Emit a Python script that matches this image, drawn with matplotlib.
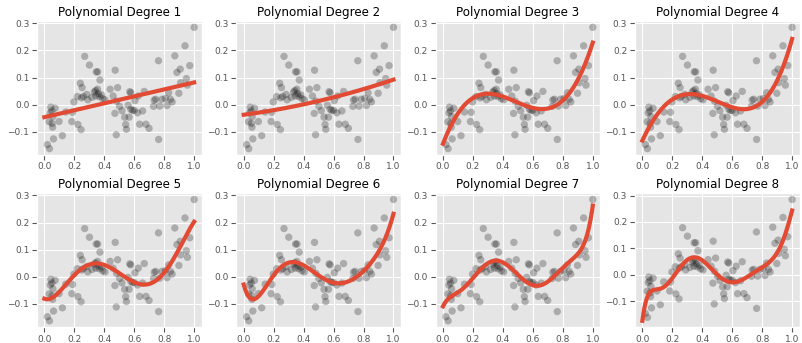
# polynomial fits of increasing degree on the same noisy points

import numpy as np
import matplotlib
matplotlib.use("Agg")
import matplotlib.pyplot as plt

plt.style.use("ggplot")

# points
x_vals = [0.020, 0.034, 0.043, 0.072, 0.039, 0.050, 0.057, 0.032, 0.052, 0.055,
          0.061, 0.098, 0.120, 0.143, 0.183, 0.188, 0.197, 0.220, 0.224, 0.245,
          0.240, 0.252, 0.248, 0.269, 0.283, 0.290, 0.301, 0.333, 0.342, 0.346,
          0.356, 0.371, 0.355, 0.344, 0.367, 0.382, 0.389, 0.405, 0.360, 0.439,
          0.473, 0.489, 0.480, 0.471, 0.459, 0.482, 0.502, 0.518, 0.536, 0.543,
          0.548, 0.566, 0.570, 0.577, 0.559, 0.577, 0.588, 0.600, 0.622, 0.627,
          0.636, 0.656, 0.667, 0.678, 0.699, 0.729, 0.733, 0.744, 0.762, 0.763,
          0.770, 0.785, 0.808, 0.819, 0.830, 0.842, 0.853, 0.871, 0.885, 0.898,
          0.907, 0.910, 0.939, 0.948, 0.955, 0.971, 1.000, 0.260, 0.318, 0.605]
y_vals = [-0.147, -0.162, -0.009, -0.013, -0.030, -0.023, -0.044, -0.063, -0.069, -0.083,
          -0.126, -0.062, -0.114, -0.027, -0.062, -0.028, 0.010, 0.030, -0.073, -0.092,
          0.079, 0.063, 0.025, 0.178, 0.038, 0.018, 0.146, 0.047, 0.052, 0.121,
          0.121, 0.091, 0.057, 0.032, 0.030, 0.036, 0.022, 0.018, 0.041, 0.057,
          0.127, 0.063, -0.111, -0.032, 0.032, 0.013, -0.006, -0.022, -0.046, -0.073,
          -0.091, -0.046, 0.048, 0.044, -0.002, -0.017, -0.021, -0.021, -0.030, 0.032,
          -0.072, -0.023, 0.049, -0.072, -0.087, -0.006, 0.017, 0.020, 0.162, -0.128,
          -0.005, 0.020, 0.023, -0.003, 0.044, 0.020, 0.010, 0.180, 0.119, 0.042,
          0.131, 0.081, 0.217, 0.096, 0.072, 0.144, 0.285, 0.030, 0.027, 0.015]

degrees = [1, 2, 3, 4, 5, 6, 7, 8]

x = np.array(x_vals)
y = np.array(y_vals)
x_line = np.linspace(0, 1, 200)

fig, axes = plt.subplots(2, 4, figsize=(8.02, 3.43), dpi=100)
fig.subplots_adjust(left=0.046, right=0.997, top=0.938, bottom=0.047,
                    wspace=0.21, hspace=0.29)

for ax, d in zip(axes.flat, degrees):
    coefs = np.polyfit(x, y, d)
    ax.scatter(x, y, s=28, color="black", alpha=0.25, edgecolor="none")
    ax.plot(x_line, np.polyval(coefs, x_line), color="#E24A33", linewidth=3)
    ax.set_title("Polynomial Degree %d" % d, fontsize=8.6, pad=4)
    ax.set_xticks([0.0, 0.2, 0.4, 0.6, 0.8, 1.0])
    ax.set_yticks([-0.1, 0.0, 0.1, 0.2, 0.3])
    ax.tick_params(labelsize=6.5, pad=2)

plt.savefig("out.png", dpi=100)
